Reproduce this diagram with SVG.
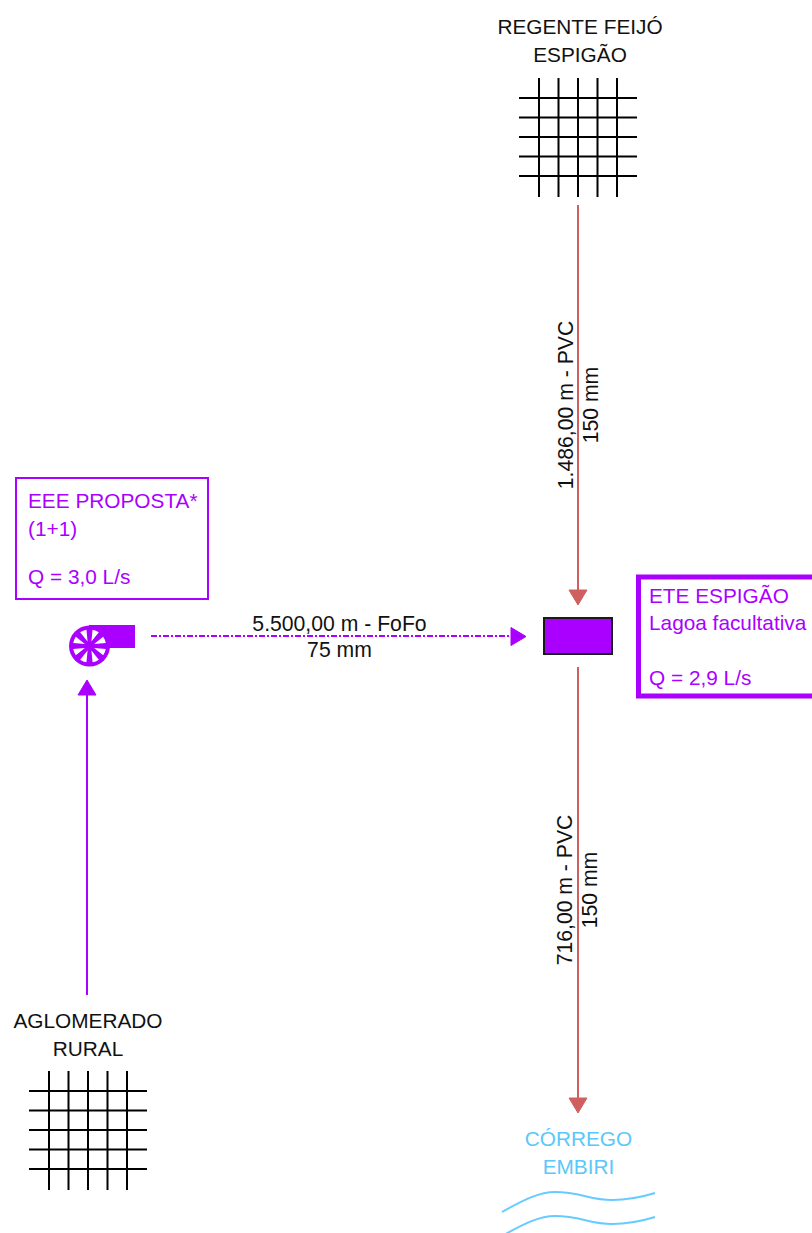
<svg xmlns="http://www.w3.org/2000/svg" width="812" height="1233" viewBox="0 0 812 1233">
<style>
text{font-family:"Liberation Sans",Arial,sans-serif;font-size:20.800px}
.l{font-size:21.200px}
.k{fill:#111}.p{fill:#aa00ff}.b{fill:#5ac8fa}
.m{text-anchor:middle}
.grid{stroke:#000;stroke-width:2;fill:none}
.red{stroke:#d06060;stroke-width:2;fill:none}
.pur{stroke:#aa00ff;stroke-width:2;fill:none}
.wave{stroke:#66ccff;stroke-width:2;fill:none}
</style>
<defs>
<g id="g"><path class="grid" d="M20 0V119M39.500 0V119M59 0V119M78.500 0V119M98 0V119M0 20H118M0 39.500H118M0 59H118M0 78.500H118M0 98H118"/></g>
<path id="w" d="M5 0L16.200 -3.400A16.500 16.500 0 0 1 16.200 3.400Z" fill="#fff"/>
</defs>
<rect width="812" height="1233" fill="#fff"/>
<g id="connectors">
<path class="red" d="M578 205V592"/><path d="M569 590H587L578 605Z" fill="#d06060" stroke="#d06060"/>
<path class="red" d="M578 667V1098"/><path d="M569 1098H587L578 1113Z" fill="#d06060" stroke="#d06060"/>
<path class="pur" d="M87 995V694"/><path d="M78 695H96L87 680Z" fill="#aa00ff" stroke="#aa00ff"/>
<path d="M151 636H512" stroke="#aa00ff" stroke-width="2" stroke-dasharray="6 2 2 2" fill="none"/><path d="M511 627.500V645.500L526 636.500Z" fill="#aa00ff" stroke="#aa00ff"/>
</g>
<g id="regente"><text class="k m" x="580" y="34">REGENTE FEIJÓ</text><text class="k m" x="580" y="62">ESPIGÃO</text><use href="#g" x="519" y="78"/></g>
<g id="aglomerado"><text class="k m" x="88" y="1028">AGLOMERADO</text><text class="k m" x="88" y="1056">RURAL</text><use href="#g" x="29" y="1071"/></g>
<g id="eee-box"><rect x="16" y="478" width="192" height="121" fill="#fff" stroke="#aa00ff" stroke-width="2"/>
<text class="p" x="28" y="507.500">EEE PROPOSTA*</text><text class="p" x="28" y="535.500">(1+1)</text><text class="p" x="28" y="584">Q = 3,0 L/s</text></g>
<g id="pump">
<rect x="89" y="625" width="46" height="23" fill="#aa00ff"/>
<circle cx="89.500" cy="646" r="20.500" fill="#aa00ff"/>
<g transform="translate(89.500 646)">
<use href="#w" transform="rotate(22.500)"/><use href="#w" transform="rotate(67.500)"/><use href="#w" transform="rotate(112.500)"/><use href="#w" transform="rotate(157.500)"/><use href="#w" transform="rotate(202.500)"/><use href="#w" transform="rotate(247.500)"/><use href="#w" transform="rotate(292.500)"/><use href="#w" transform="rotate(337.500)"/>
</g>
</g>
<g id="ete"><rect x="544" y="618" width="68" height="36" fill="#aa00ff" stroke="#1a1a1a" stroke-width="2"/></g>
<g id="ete-box"><rect x="638.500" y="577" width="190" height="119" fill="#fff" stroke="#aa00ff" stroke-width="5"/>
<text class="p" x="649" y="603">ETE ESPIGÃO</text><text class="p" x="649" y="630">Lagoa facultativa</text><text class="p" x="649" y="685">Q = 2,9 L/s</text></g>
<g id="corrego"><text class="b m" x="578.500" y="1145.500">CÓRREGO</text><text class="b m" x="578.500" y="1173.500">EMBIRI</text>
<path class="wave" d="M502 1212C525 1199 540 1192 555 1192C580 1192 590 1200 612 1200C628 1200 642 1197 655 1193"/>
<path class="wave" d="M502 1236C525 1223 540 1216 555 1216C580 1216 590 1224 612 1224C628 1224 642 1221 655 1217"/></g>
<g id="labels">
<text class="k m l" x="339.500" y="631">5.500,00 m - FoFo</text><text class="k m l" x="339.500" y="657">75 mm</text>
<text class="k m l" transform="translate(572.500 405) rotate(-90)">1.486,00 m - PVC</text><text class="k m l" transform="translate(598 405) rotate(-90)">150 mm</text>
<text class="k m l" transform="translate(572 890) rotate(-90)">716,00 m - PVC</text><text class="k m l" transform="translate(597 890) rotate(-90)">150 mm</text>
</g>
</svg>
